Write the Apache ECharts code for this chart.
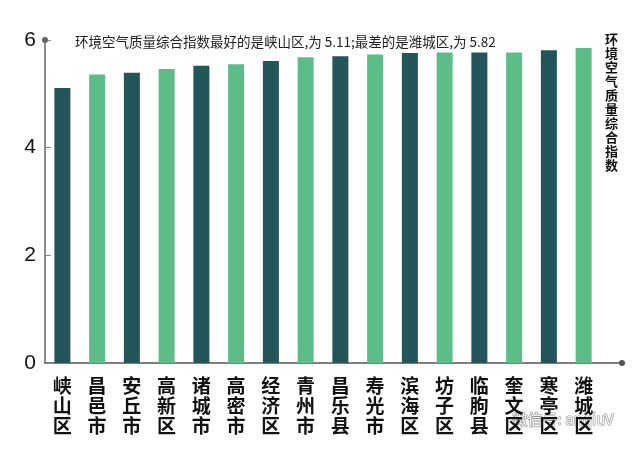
<!DOCTYPE html>
<html>
<head>
<meta charset="utf-8">
<script src="https://cdn.jsdelivr.net/npm/echarts@6/dist/echarts.min.js"></script>
<style>html,body{margin:0;padding:0;background:#fff}#c{width:640px;height:450px}</style>
</head>
<body>
<div id="c"></div>
<script>
const categories = ['峡山区','昌邑市','安丘市','高新区','诸城市','高密市','经济区','青州市','昌乐县','寿光市','滨海区','坊子区','临朐县','奎文区','寒亭区','潍城区'];
const values = [5.11, 5.36, 5.39, 5.46, 5.52, 5.55, 5.61, 5.68, 5.70, 5.73, 5.76, 5.77, 5.77, 5.77, 5.81, 5.85];
const yTicks = [0, 2, 4, 6];
const titleText = '环境空气质量综合指数最好的是峡山区,为 5.11;最差的是潍城区,为 5.82';
const sideTitle = '环境空气质量综合指数';
const watermark = '微信号: anqiuV';

const DARK = '#245558', GREEN = '#5cbd88';
const chart = echarts.init(document.getElementById('c'), null, {renderer: 'canvas'});
chart.setOption({
  animation: false,
  backgroundColor: '#fff',
  textStyle: {fontFamily: '"Noto Sans CJK SC", sans-serif'},
  title: [{
    text: titleText, left: 75, top: 35, padding: 0,
    textStyle: {fontSize: 13.5, fontWeight: 'normal', color: '#222', fontFamily: '"Noto Sans CJK SC", sans-serif'}
  }, {
    text: sideTitle.split('').join('\n'), left: 605, top: 32, padding: 0,
    textStyle: {fontSize: 13, fontWeight: 'bold', color: '#111', lineHeight: 14, fontFamily: '"Noto Sans CJK SC", sans-serif'}
  }],
  grid: [
    {left: 45, right: 39, top: 40, bottom: 87},
    {left: 45, right: 18, top: 40, bottom: 87}
  ],
  xAxis: [{
    type: 'category', gridIndex: 0, data: categories,
    axisLine: {show: false}, axisTick: {show: false},
    axisLabel: {
      interval: 0, margin: 13, fontSize: 19, lineHeight: 20, fontWeight: 'bold', color: '#111',
      fontFamily: '"Noto Sans CJK SC", sans-serif',
      formatter: v => v.split('').join('\n')
    }
  }, {
    type: 'value', gridIndex: 1, min: 0, max: 1,
    axisLine: {show: true, symbol: ['none', 'circle'], symbolSize: [6, 6], lineStyle: {color: '#555', width: 1.5}},
    axisTick: {show: false}, axisLabel: {show: false}, splitLine: {show: false}
  }],
  yAxis: [{
    type: 'value', gridIndex: 0, min: yTicks[0], max: yTicks[yTicks.length - 1], interval: yTicks[1] - yTicks[0],
    axisLine: {show: true, symbol: ['none', 'circle'], symbolSize: [6, 6], lineStyle: {color: '#666', width: 1.5}},
    axisTick: {show: true, inside: true, length: 6, lineStyle: {color: '#888'}},
    axisLabel: {fontSize: 21, color: '#111', margin: 9, fontFamily: '"Liberation Sans", Arial, sans-serif'},
    splitLine: {show: false}
  }, {
    type: 'value', gridIndex: 1, show: false, min: 0, max: 1
  }],
  series: [{
    type: 'bar', xAxisIndex: 0, yAxisIndex: 0, barWidth: 16,
    data: values.map((v, i) => ({value: v, itemStyle: {color: i % 2 === 0 ? DARK : GREEN}}))
  }],
  graphic: [{
    type: 'text', left: 512, top: 411, silent: true,
    style: {text: watermark, fontSize: 15, fill: 'rgba(255,255,255,0.9)', stroke: 'rgba(120,120,120,0.8)', lineWidth: 1.2,
      fontFamily: '"Noto Sans CJK SC", sans-serif'}
  }]
});
</script>
</body>
</html>
